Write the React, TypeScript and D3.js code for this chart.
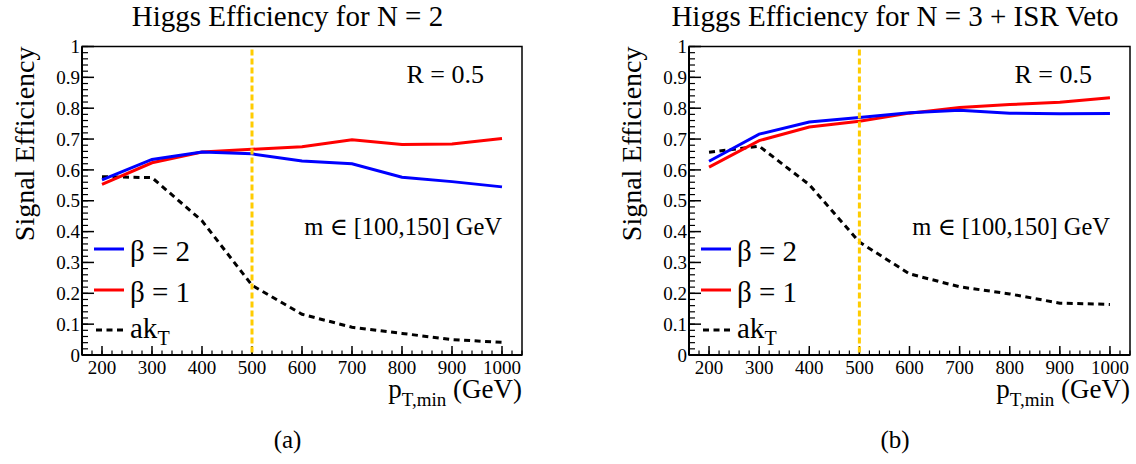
import React from "react";
import * as d3 from "d3";

// ---- data ----
const ptMin = [200, 300, 400, 500, 600, 700, 800, 900, 1000];

const beta2N2 = [0.568, 0.634, 0.658, 0.652, 0.629, 0.62, 0.576, 0.562, 0.545];
const beta1N2 = [0.553, 0.623, 0.658, 0.667, 0.675, 0.698, 0.682, 0.684, 0.702];
const aktN2 = [0.578, 0.575, 0.435, 0.226, 0.132, 0.09, 0.07, 0.05, 0.041];

const beta2N3 = [0.628, 0.716, 0.755, 0.77, 0.785, 0.793, 0.784, 0.782, 0.783];
const beta1N3 = [0.609, 0.695, 0.739, 0.758, 0.784, 0.802, 0.812, 0.819, 0.834];
const aktN3 = [0.657, 0.677, 0.552, 0.366, 0.263, 0.221, 0.198, 0.168, 0.164];

const xTickValues = [200, 300, 400, 500, 600, 700, 800, 900, 1000];
const yTickValues = [0, 0.1, 0.2, 0.3, 0.4, 0.5, 0.6, 0.7, 0.8, 0.9, 1];
const yTickLabels = ["0", "0.1", "0.2", "0.3", "0.4", "0.5", "0.6", "0.7", "0.8", "0.9", "1"];
const cutValue = 500;

const titles = ["Higgs Efficiency for N = 2", "Higgs Efficiency for N = 3 + ISR Veto"];
const captions = ["(a)", "(b)"];

const FONT = "Liberation Serif, DejaVu Serif";

type PanelProps = {
  fx: number;
  fr: number;
  title: string;
  caption: string;
  blue: number[];
  red: number[];
  black: number[];
};

function Panel({ fx, fr, title, caption, blue, red, black }: PanelProps) {
  const top = 46.5;
  const bottom = 355;
  const x = d3.scaleLinear().domain([160, 1040]).range([fx, fr]);
  const y = d3.scaleLinear().domain([0, 1]).range([bottom, top]);
  const line = d3
    .line<number>()
    .x((_, i) => x(ptMin[i]))
    .y((d) => y(d));
  const minorX = d3.range(160, 1041, 20);
  const minorY = d3.range(0, 1.0001, 0.02);
  const cx = (fx + fr) / 2 - 14.5;
  const legY = [249, 290, 330];
  return (
    <g fontFamily={FONT}>
      {/* title */}
      <text x={cx} y={26} textAnchor="middle" fontSize={29}>
        {title}
      </text>
      {/* frame */}
      <rect x={fx} y={top} width={fr - fx} height={bottom - top} fill="none" stroke="#000" strokeWidth={1.5} />
      {/* y ticks */}
      {minorY.map((v, i) => (
        <line key={"ym" + i} x1={fx} x2={fx + 6} y1={y(v)} y2={y(v)} stroke="#000" strokeWidth={1.2} />
      ))}
      {yTickValues.map((v, i) => (
        <g key={"yt" + i}>
          <line x1={fx} x2={fx + 12} y1={y(v)} y2={y(v)} stroke="#000" strokeWidth={1.5} />
          <text x={fx - 2} y={y(v)} dy="0.35em" textAnchor="end" fontSize={19}>
            {yTickLabels[i]}
          </text>
        </g>
      ))}
      {/* x ticks */}
      {minorX.map((v, i) => (
        <line key={"xm" + i} x1={x(v)} x2={x(v)} y1={bottom} y2={bottom - 4.5} stroke="#000" strokeWidth={1.2} />
      ))}
      {xTickValues.map((v, i) => (
        <g key={"xt" + i}>
          <line x1={x(v)} x2={x(v)} y1={bottom} y2={bottom - 9} stroke="#000" strokeWidth={1.5} />
          <text x={x(v)} y={374} textAnchor="middle" fontSize={19}>
            {String(v)}
          </text>
        </g>
      ))}
      {/* axis lines thicker */}
      <line x1={fx} x2={fx} y1={top} y2={bottom} stroke="#000" strokeWidth={2} />
      <line x1={fx} x2={fr} y1={bottom} y2={bottom} stroke="#000" strokeWidth={2} />
      {/* series */}
      <path d={line(black) || ""} fill="none" stroke="#000" strokeWidth={3} strokeDasharray="6 4.5" />
      <path d={line(red) || ""} fill="none" stroke="#ff0000" strokeWidth={3} />
      <path d={line(blue) || ""} fill="none" stroke="#0000ff" strokeWidth={3} />
      {/* cut line */}
      <line
        x1={x(cutValue)}
        x2={x(cutValue)}
        y1={y(1) + 3}
        y2={y(0)}
        stroke="#ffcc00"
        strokeWidth={3}
        strokeDasharray="6 3"
      />
      {/* annotations */}
      <text x={fr - 38} y={83} textAnchor="end" fontSize={26}>
        R = 0.5
      </text>
      <text x={fr - 20} y={235} textAnchor="end" fontSize={24.5}>
        m ∈ [100,150] GeV
      </text>
      {/* legend */}
      <line x1={fx + 12} x2={fx + 42} y1={legY[0]} y2={legY[0]} stroke="#0000ff" strokeWidth={3} />
      <text x={fx + 48} y={legY[0] + 12} fontSize={29}>
        β = 2
      </text>
      <line x1={fx + 12} x2={fx + 42} y1={legY[1]} y2={legY[1]} stroke="#ff0000" strokeWidth={3} />
      <text x={fx + 48} y={legY[1] + 12} fontSize={29}>
        β = 1
      </text>
      <line
        x1={fx + 14}
        x2={fx + 42}
        y1={legY[2]}
        y2={legY[2]}
        stroke="#000"
        strokeWidth={3}
        strokeDasharray="6 4.5"
      />
      <text x={fx + 48} y={legY[2] + 8} fontSize={29}>
        ak
        <tspan fontSize={20} dy={7}>
          T
        </tspan>
      </text>
      {/* axis titles */}
      <text x={fr} y={398} textAnchor="end" fontSize={27}>
        p
        <tspan fontSize={19} dy={8}>
          T,min
        </tspan>
        <tspan dy={-8}> (GeV)</tspan>
      </text>
      <text transform={`translate(${fx - 48},${top}) rotate(-90)`} textAnchor="end" fontSize={28}>
        Signal Efficiency
      </text>
      {/* caption */}
      <text x={cx} y={448} textAnchor="middle" fontSize={25}>
        {caption}
      </text>
    </g>
  );
}

export default function App() {
  return (
    <svg width={1136} height={464} style={{ position: "absolute", left: 0, top: 0, background: "#fff" }}>
      <rect x={0} y={0} width={1136} height={464} fill="#fff" />
      <Panel fx={82} fr={522} title={titles[0]} caption={captions[0]} blue={beta2N2} red={beta1N2} black={aktN2} />
      <Panel fx={689} fr={1130} title={titles[1]} caption={captions[1]} blue={beta2N3} red={beta1N3} black={aktN3} />
    </svg>
  );
}
